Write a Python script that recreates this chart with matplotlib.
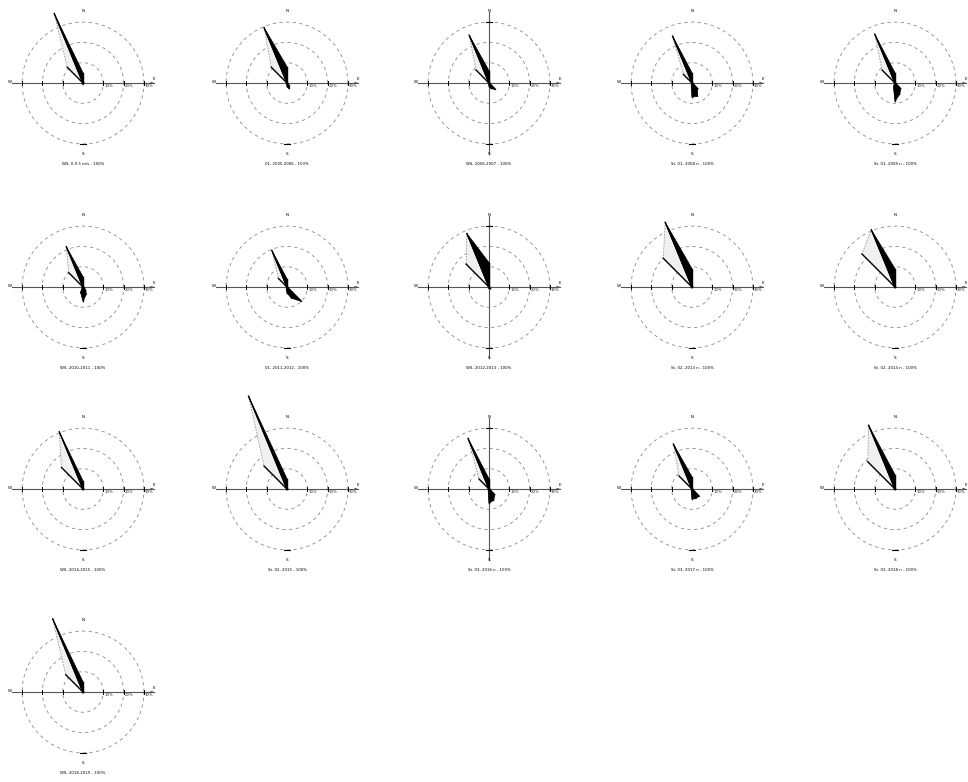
import numpy as np
import matplotlib
matplotlib.use("Agg")
import matplotlib.pyplot as plt

# -------------------------------
# Data (percent of observations per direction, read off the picture)
# -------------------------------
DIRECTIONS = ["N", "NNE", "NE", "ENE", "E", "ESE", "SE", "SSE",
              "S", "SSW", "SW", "WSW", "W", "WNW", "NW", "NNW"]

CAPTIONS = [
    "WS, 0-0.5 m/s - 100%", "01, 2005-2006 - 100%", "WS, 2006-2007 - 100%",
    "St. 01, 2008 n - 100%", "St. 01, 2009 n - 100%", "WS, 2010-2011 - 100%",
    "01, 2011-2012 - 100%", "WS, 2012-2013 - 100%", "St. 02, 2013 n - 100%",
    "St. 02, 2014 n - 100%", "WS, 2014-2015 - 100%", "St. 02, 2015 - 100%",
    "St. 03, 2016 n - 100%", "St. 03, 2017 n - 100%", "St. 03, 2018 n - 100%",
    "WS, 2018-2019 - 100%",
]

# dominant direction (both series share the tip)
nnw = [37, 29.5, 25.5, 25, 26, 21.5, 19.5, 28.5, 34.5, 30.5, 30.5, 49.5, 27, 24, 34, 39]
n = [5, 8, 6, 5, 5, 5, 4, 12, 9, 9, 4, 5, 5, 6, 7, 5]
# secondary lobe of the total series
nw_total = [11, 11, 9, 6, 9, 10, 6, 16, 20, 23, 15, 16, 7, 9, 19, 12]
# southern lobes of the strong-wind series
se = [0.5, 2, 4.5, 4, 4, 2, 10, 1.5, 0.5, 0.5, 0.5, 0.5, 4, 5, 0.5, 0.5]
sse = [0.5, 3, 3, 7, 6, 4, 6, 1, 0.5, 0.5, 0.5, 0.5, 6, 5, 0.5, 0.5]
s = [1, 2, 2, 7, 9, 7, 3, 1, 0.5, 0.5, 0.5, 0.5, 7, 5, 0.5, 0.5]
ssw = [0.5, 0.5, 0.5, 1, 2, 3, 1, 0.5, 0.5, 0.5, 0.5, 0.5, 1, 1, 0.5, 0.5]
calm = 0.5  # everything else sits near the centre

VERTICAL_AXIS = [False, False, True, False, False,
                 False, False, True, False, False,
                 False, False, True, False, False,
                 False]

RINGS = [10, 20, 30]

# -------------------------------
# Layout (pixel centres of each rose)
# -------------------------------
FIG_W, FIG_H = 968, 782
COL_X = [83, 287, 489, 692, 895]
ROW_Y = [83, 287, 489, 692]
HALF = 100          # half size of each panel in px
PX_PER_PCT = 2.03   # 10 % ring = ~20 px
LIM = HALF / PX_PER_PCT


def series_for(i):
    black = {d: calm for d in DIRECTIONS}
    black.update({"NNW": nnw[i], "N": n[i], "SE": se[i], "SSE": sse[i],
                  "S": s[i], "SSW": ssw[i]})
    total = dict(black)
    total["NW"] = nw_total[i]
    return ([black[d] for d in DIRECTIONS], [total[d] for d in DIRECTIONS])


def to_xy(values):
    ang = np.deg2rad(np.arange(len(values)) * 22.5)
    v = np.asarray(values, dtype=float)
    return v * np.sin(ang), v * np.cos(ang)


def draw_rose(ax, i):
    black, total = series_for(i)

    # rings
    t = np.linspace(0, 2 * np.pi, 240)
    for r in RINGS:
        ax.plot(r * np.cos(t), r * np.sin(t), color="#8a8a8a", lw=0.6,
                ls=(0, (4, 4)), zorder=1)

    # axes lines
    ax.plot([-35, 35], [0, 0], color="#555555", lw=0.8, zorder=2)
    ax.annotate("", xy=(36, 0), xytext=(33, 0),
                arrowprops=dict(arrowstyle="-|>", color="#555555", lw=0.5,
                                mutation_scale=3))
    if VERTICAL_AXIS[i]:
        ax.plot([0, 0], [-35, 35], color="#555555", lw=0.8, zorder=2)
        ax.plot([-1.5, 1.5], [30, 30], color="black", lw=0.8, zorder=2)
    ax.plot([-1.5, 1.5], [-30, -30], color="black", lw=0.8, zorder=2)
    for r in RINGS:
        for sgn in (-1, 1):
            ax.plot([sgn * r, sgn * r], [-1.2, 1.2], color="black", lw=0.7,
                    zorder=2)
        ax.text(r + 0.6, -0.4, f"{r}%", fontsize=2.8, ha="left", va="top",
                color="#333333")

    # total series: light fill, dashed outline
    gx, gy = to_xy(total)
    ax.fill(gx, gy, facecolor="#f0f0f0", edgecolor="#999999", lw=0.6,
            ls=(0, (2, 1.5)), zorder=3)
    # spokes to the tips of the total series
    for x, y, v in zip(gx, gy, total):
        if v > 2:
            ax.plot([0, x], [0, y], color="black", lw=1.0, zorder=4)

    # strong-wind series: solid black
    bx, by = to_xy(black)
    ax.fill(bx, by, facecolor="black", edgecolor="black", lw=0.5, zorder=5)

    # compass letters and caption
    ax.text(0, 35.5, "N", fontsize=3, ha="center", va="center")
    ax.text(0, -35, "S", fontsize=3, ha="center", va="center")
    ax.text(-36, 0.4, "W", fontsize=3, ha="center", va="center")
    ax.text(35, 1.8, "E", fontsize=3, ha="center", va="center")
    ax.text(0, -40, CAPTIONS[i], fontsize=2.8, ha="center", va="center")

    ax.set_xlim(-LIM, LIM)
    ax.set_ylim(-LIM, LIM)
    ax.set_aspect("equal")
    ax.axis("off")


def main():
    fig = plt.figure(figsize=(FIG_W / 100, FIG_H / 100), dpi=100)
    for i in range(len(nnw)):
        cx = COL_X[i % 5]
        cy = ROW_Y[i // 5]
        left = (cx - HALF) / FIG_W
        bottom = 1 - (cy + HALF) / FIG_H
        ax = fig.add_axes([left, bottom, 2 * HALF / FIG_W, 2 * HALF / FIG_H])
        ax.patch.set_alpha(0)
        draw_rose(ax, i)

    fig.savefig("out.png", dpi=100, facecolor="white")
    plt.close(fig)


if __name__ == "__main__":
    main()
